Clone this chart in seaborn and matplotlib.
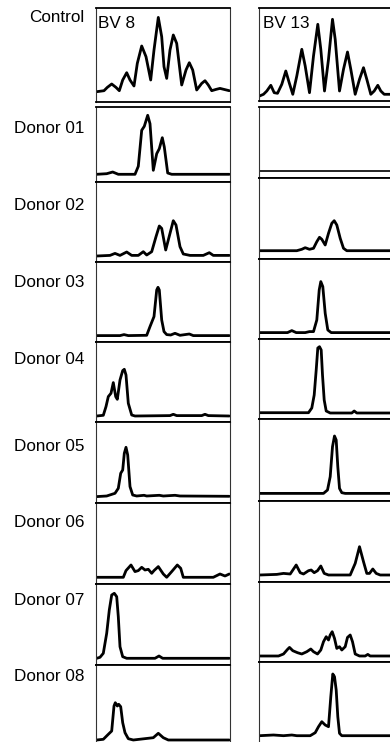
import matplotlib
matplotlib.use("Agg")
import matplotlib.pyplot as plt
import pandas as pd
import seaborn as sns

# ---------------- data ----------------
row_labels = ["Control", "Donor 01", "Donor 02", "Donor 03", "Donor 04",
              "Donor 05", "Donor 06", "Donor 07", "Donor 08"]
column_labels = ["BV 8", "BV 13"]

# BV 8 column
bv8_control_x = [0.7, 8, 11.3, 15.7, 20, 23.3, 26.7, 30.7, 34, 38, 41.3, 45.7, 50, 54.7, 58, 62.3,
                 65.7, 68, 70.7, 74, 77.3, 80.7, 85.7, 90, 93.3, 96.7, 100.7, 105.7, 109, 112.3,
                 115.7, 120, 124, 128, 133.3]
bv8_control_y = [10, 11, 14.3, 17.7, 14.3, 11, 21.7, 29, 21.7, 15.7, 38.3, 55.7, 45, 21.7, 51.7, 84.3,
                 65, 35, 23.3, 51.7, 66.7, 58.3, 16.7, 31.7, 39, 31.7, 11.7, 18.3, 21, 16.7,
                 11, 12.3, 13.3, 12.3, 11]
bv8_d01_x = [0.7, 10.7, 16.7, 22.3, 39, 42.3, 45.7, 48.3, 51.7, 54, 57.3, 60.7, 63.3, 66.3, 68.3, 71.7, 75.7, 133.3]
bv8_d01_y = [7.7, 8.3, 10, 7.7, 7.7, 15.7, 51.7, 55.7, 66.7, 58.3, 11.7, 28.3, 33.3, 44.3, 35, 9, 7.7, 7.7]
bv8_d02_x = [0.7, 14, 19, 24, 30.7, 35.7, 42.3, 47.3, 50.7, 55.7, 60, 63.3, 65.7, 69.7, 74, 77.3,
             80, 84, 87.3, 94, 107.3, 113.3, 117.3, 133.3]
bv8_d02_y = [5.7, 6.3, 8.3, 6.3, 9.7, 6.3, 6.3, 10, 6.7, 10, 25, 35.7, 33.3, 11.7, 28.3, 41,
             36.7, 15, 7.7, 6.3, 6.3, 9, 6.3, 6.3]
bv8_d03_x = [0.7, 24, 28, 32.3, 50.7, 54, 58, 60.7, 62, 63.3, 65.7, 68, 70.7, 74.7, 79, 84, 93.3, 97.3, 133.3]
bv8_d03_y = [6.7, 6.7, 7.7, 6.7, 7, 15.7, 25.7, 52.3, 55, 52.3, 22.3, 10.7, 7.7, 7.3, 9, 7, 8.3, 6.7, 6.7]
bv8_d04_x = [0.7, 7.3, 10, 12.3, 15, 17.3, 19.7, 21.3, 24, 26.7, 28.3, 30, 32.3, 35.7, 39, 74, 77.3,
             80.7, 105.7, 109, 112.3, 133.3]
bv8_d04_y = [6.3, 7, 15.7, 25.7, 29, 39.7, 25.7, 23, 42.3, 51.7, 53, 47.3, 19, 7.3, 6.3, 6.7, 8,
             6.7, 6.7, 8, 6.7, 6.3]
bv8_d05_x = [0.7, 10.7, 19, 22.3, 24.7, 26.7, 28.3, 30, 31.7, 34, 36.7, 40.7, 48, 50.7, 63.3, 67.3, 79, 84, 133.3]
bv8_d05_y = [6.7, 7.3, 10, 15, 30, 33.3, 50, 56, 48.3, 16.7, 8.3, 7.3, 8, 7.3, 8, 7.3, 8, 7.3, 7]
bv8_d06_x = [0.7, 27.3, 30, 35, 39, 42.3, 45.7, 49, 52.3, 55.7, 58, 62.3, 67.3, 70.7, 75.7, 81.3,
             84.7, 87.3, 117.3, 124, 129, 133.3]
bv8_d06_y = [7, 7, 13.7, 19.3, 12.7, 13.7, 17, 14.3, 15, 11, 13.7, 17.7, 10.3, 7, 12.7, 19.3,
             16, 7, 7, 10.3, 8.3, 10.3]
bv8_d07_x = [0.7, 4, 7.3, 10.7, 13.3, 15.7, 18.3, 20.7, 22.3, 24, 26.7, 30.7, 59, 63, 66.7, 133.3]
bv8_d07_y = [6.7, 7.7, 11.7, 31.7, 55, 70, 71.7, 68.3, 48.3, 18.3, 8.3, 6.7, 6.7, 9, 6.7, 6.7]
bv8_d08_x = [0.7, 7.3, 12.3, 15.7, 18, 19.3, 21.3, 22.7, 24.7, 26.7, 29, 32.3, 37.3, 57.3, 62.3, 67.3, 72.3, 133.3]
bv8_d08_y = [2, 2.7, 7.7, 11, 36, 39.3, 36, 37.7, 35.3, 19.3, 9.3, 3.3, 2, 4.3, 8.7, 4.3, 2, 2]

# BV 13 column
bv13_control_x = [1, 5, 8.3, 12.3, 15.7, 19, 23.3, 27.3, 30.7, 34.3, 38.3, 43.3, 46.7, 51, 55, 59.3,
                  62.3, 66, 70, 74, 76.7, 81, 85, 89, 92.3, 96.7, 101, 105, 108.3, 112.3, 115.7,
                  119.3, 122.3, 125.7, 131.7]
bv13_control_y = [5, 6.7, 10, 15.7, 8.3, 7.7, 16.7, 30, 18.3, 6.7, 25, 51.7, 35, 8.3, 45, 76.7,
                  51.7, 10, 41.7, 81.7, 61.7, 10, 31.7, 49, 31.7, 6.7, 21.7, 33.3, 21.7, 6.7, 10,
                  15.7, 10, 6.7, 6.7]
bv13_d01_x = [0, 134]
bv13_d01_y = [7, 7]
bv13_d02_x = [1, 38.3, 43.3, 46.7, 51, 55, 58.3, 61, 63.3, 66.7, 70, 73.3, 75.7, 78.3, 81.7, 85, 88.3, 131.7]
bv13_d02_y = [8.3, 8.3, 9.7, 11.3, 9.7, 10.7, 17.3, 21.7, 19.7, 14, 25.7, 35.7, 38.3, 34, 20.7, 10.7, 8.3, 8.3]
bv13_d03_x = [1, 29, 33.3, 37.7, 46.7, 51, 55, 58.3, 60.7, 62.3, 64.3, 66.7, 69.3, 72.7, 131.7]
bv13_d03_y = [6.7, 6.7, 8.7, 6.7, 6.7, 7.7, 7.7, 19.3, 49.3, 57.7, 52.7, 26, 9.3, 6.7, 6.7]
bv13_d04_x = [1, 50, 53.3, 55.7, 57.7, 59.3, 61, 62.7, 64, 65.7, 67.7, 71.7, 93.3, 95.7, 98.3, 131.7]
bv13_d04_y = [6.6, 6.6, 11.3, 24.3, 49.3, 71.3, 72.6, 69.3, 44.3, 19.3, 8.3, 6.3, 6.3, 8.3, 6.3, 6.3]
bv13_d05_x = [1, 65, 69, 71.7, 74, 76, 77.7, 79.3, 81, 83.3, 86.7, 131.7]
bv13_d05_y = [7.3, 7.3, 10.7, 24, 54, 64.7, 60.7, 34, 12.3, 8, 7.3, 7.3]
bv13_d06_x = [1, 18.3, 25, 31.7, 37.7, 41.7, 45, 50, 52.7, 55.7, 59, 62.3, 65.7, 70, 91.7, 96.7,
              101, 105, 108.3, 111, 114.3, 117.7, 121.7, 131.7]
bv13_d06_y = [6.7, 7.3, 8.3, 7.7, 16.7, 9, 7.7, 11, 11.7, 9, 11, 15.7, 8.3, 6.7, 6.7, 18.3,
              35, 20, 8.3, 8.3, 12.7, 8.3, 6.7, 6.7]
bv13_d07_x = [1, 20, 25, 29, 31, 34.3, 39, 43.3, 48.3, 52.3, 55, 59, 62.3, 65, 67.7, 70, 71.7, 73.7,
              76, 78.3, 81, 83.3, 86.7, 89, 91.7, 94, 96.7, 101, 106.7, 109.3, 111.7, 131.7]
bv13_d07_y = [5.7, 5.7, 7.7, 12.3, 14.3, 11, 9, 7.7, 10, 12.7, 10, 7.7, 11.7, 20, 25, 21.7, 26.7, 30,
              23.3, 13.3, 15, 11.7, 15, 24.3, 26.7, 20, 7.7, 5.7, 5.7, 7.3, 5.7, 5.7]
bv13_d08_x = [1, 15, 25, 33.3, 38.3, 51.7, 56.7, 60, 63.3, 66.7, 70, 72.3, 74.3, 76, 77.7, 79.3, 81, 83.3, 131.7]
bv13_d08_y = [6.3, 7, 6.3, 7, 6.3, 6.3, 9.3, 15.3, 20.3, 17, 15.3, 45.3, 68, 65.3, 52, 25.3, 8.7, 6.3, 6.3]

traces = [
    [(bv8_control_x, bv8_control_y), (bv8_d01_x, bv8_d01_y), (bv8_d02_x, bv8_d02_y),
     (bv8_d03_x, bv8_d03_y), (bv8_d04_x, bv8_d04_y), (bv8_d05_x, bv8_d05_y),
     (bv8_d06_x, bv8_d06_y), (bv8_d07_x, bv8_d07_y), (bv8_d08_x, bv8_d08_y)],
    [(bv13_control_x, bv13_control_y), (bv13_d01_x, bv13_d01_y), (bv13_d02_x, bv13_d02_y),
     (bv13_d03_x, bv13_d03_y), (bv13_d04_x, bv13_d04_y), (bv13_d05_x, bv13_d05_y),
     (bv13_d06_x, bv13_d06_y), (bv13_d07_x, bv13_d07_y), (bv13_d08_x, bv13_d08_y)],
]

frames = []
for c, col in enumerate(traces):
    for r, (xs, ys) in enumerate(col):
        frames.append(pd.DataFrame({"col": c, "row": r, "order": range(len(xs)),
                                    "pos": xs, "intensity": ys}))
df = pd.concat(frames, ignore_index=True)

# ---------------- layout (pixels) ----------------
W, H = 390, 742
col_left_px = [96, 258.5]
panel_w_px = 134
col_tops = [[7.5, 107, 182, 261.7, 342.3, 422.3, 503.3, 584.3, 665],
            [7.5, 107, 178, 259, 339.3, 419.3, 500.7, 581.7, 661.7]]
col_bots = [[101.7, 182, 261.7, 342.3, 422.3, 503.3, 584.3, 665, 742],
            [101, 178, 259, 339.3, 419.3, 500.7, 581.7, 661.7, 742]]
label_baseline_px = [21.7, 132.7, 210, 287.3, 364.3, 450.7, 527.3, 605, 680.7]
label_right_px = 84
title_pos_px = [(97.5, 28.3), (263, 28)]

sns.set_style("white")
plt.rcParams["font.family"] = ["Liberation Sans", "DejaVu Sans"]

fig = plt.figure(figsize=(W / 100, H / 100), dpi=100)

for c in range(2):
    for r in range(len(row_labels)):
        top, bot = col_tops[c][r], col_bots[c][r]
        ax = fig.add_axes([col_left_px[c] / W, 1 - bot / H, panel_w_px / W, (bot - top) / H])
        sub = df[(df["col"] == c) & (df["row"] == r)].sort_values("order")
        lw = 1.2 if (c == 1 and r == 1) else 2.0
        sns.lineplot(data=sub, x="pos", y="intensity", ax=ax, sort=False, estimator=None,
                     color="black", linewidth=lw, legend=False,
                     solid_joinstyle="round", solid_capstyle="round")
        ax.set_xlim(0, panel_w_px)
        ax.set_ylim(0, bot - top)
        ax.set_xticks([])
        ax.set_yticks([])
        ax.set_xlabel("")
        ax.set_ylabel("")
        for side in ("top", "bottom"):
            ax.spines[side].set_linewidth(1.3)
            ax.spines[side].set_color("black")
        for side in ("left", "right"):
            ax.spines[side].set_linewidth(0.8)
            ax.spines[side].set_color("#333333")
        if r == len(row_labels) - 1:
            ax.spines["bottom"].set_visible(False)

for r, lab in enumerate(row_labels):
    fig.text(label_right_px / W, 1 - label_baseline_px[r] / H, lab,
             ha="right", va="baseline", fontsize=12.3, color="black")

for c, lab in enumerate(column_labels):
    x, y = title_pos_px[c]
    fig.text(x / W, 1 - y / H, lab, ha="left", va="baseline", fontsize=12.3, color="black")

fig.savefig("out.png", dpi=100)
